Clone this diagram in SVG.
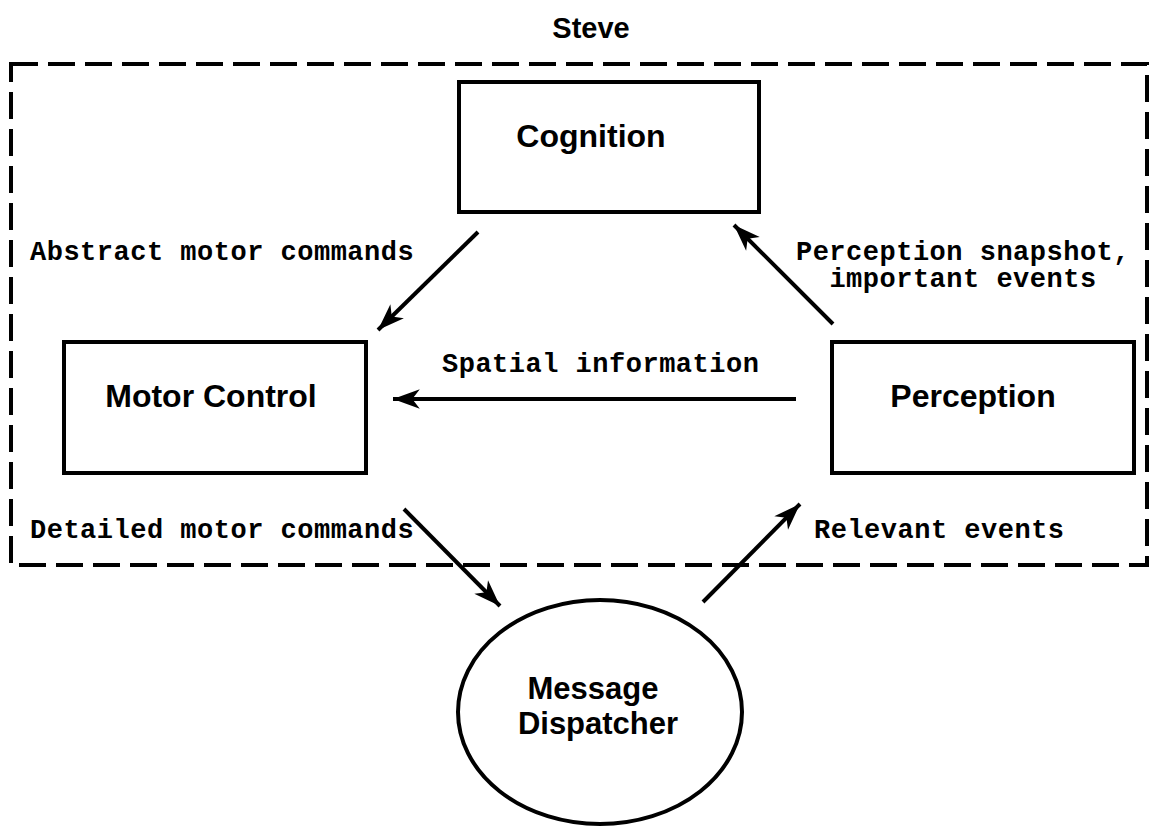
<svg xmlns="http://www.w3.org/2000/svg" width="1151" height="835" viewBox="0 0 1151 835">
<style>
.node{fill:#fff;stroke:#000;stroke-width:4}
.lbl{font-family:"Liberation Sans",Arial,sans-serif;font-weight:bold;font-size:32px;fill:#000}
.mono{font-family:"Liberation Mono","Courier New",monospace;font-weight:bold;font-size:27px;letter-spacing:0.5px;fill:#000}
.conn{stroke:#000;stroke-width:4;fill:none;marker-end:url(#ah)}
</style>
<defs>
<marker id="ah" markerUnits="userSpaceOnUse" markerWidth="30" markerHeight="24" viewBox="-26 -10 28 20" refX="0" refY="0" orient="auto">
<path d="M0,0 L-25,-9 L-18,0 L-25,9 Z" fill="#000"/>
</marker>
</defs>
<rect width="1151" height="835" fill="#fff"/>
<g id="steve">
<rect x="11" y="64" width="1136" height="501" fill="none" stroke="#000" stroke-width="4" stroke-dasharray="27 10"/>
<text class="lbl" x="591" y="38" text-anchor="middle" style="font-size:29px">Steve</text>
</g>
<g id="cognition">
<rect class="node" x="459" y="82" width="300" height="130"/>
<text class="lbl" x="591" y="147" text-anchor="middle">Cognition</text>
</g>
<g id="motor-control">
<rect class="node" x="64" y="342" width="302" height="131"/>
<text class="lbl" x="211" y="407" text-anchor="middle">Motor Control</text>
</g>
<g id="perception">
<rect class="node" x="832" y="342" width="302" height="131"/>
<text class="lbl" x="973" y="407" text-anchor="middle">Perception</text>
</g>
<g id="message-dispatcher">
<ellipse class="node" cx="600" cy="712" rx="142" ry="112"/>
<text class="lbl" x="593" y="699" text-anchor="middle" style="font-size:31px">Message</text>
<text class="lbl" x="598" y="734" text-anchor="middle" style="font-size:31px">Dispatcher</text>
</g>
<g id="connectors">
<line class="conn" x1="478" y1="232" x2="378" y2="330"/>
<line class="conn" x1="833" y1="324" x2="734" y2="225"/>
<line class="conn" x1="796" y1="399" x2="393" y2="399"/>
<line class="conn" x1="404" y1="509" x2="500" y2="606"/>
<line class="conn" x1="703" y1="602" x2="800" y2="504"/>
<text class="mono" x="30" y="260">Abstract motor commands</text>
<text class="mono" x="963" y="260" text-anchor="middle">Perception snapshot,</text>
<text class="mono" x="963" y="287" text-anchor="middle">important events</text>
<text class="mono" x="442" y="372">Spatial information</text>
<text class="mono" x="30" y="538">Detailed motor commands</text>
<text class="mono" x="814" y="538">Relevant events</text>
</g>
</svg>
